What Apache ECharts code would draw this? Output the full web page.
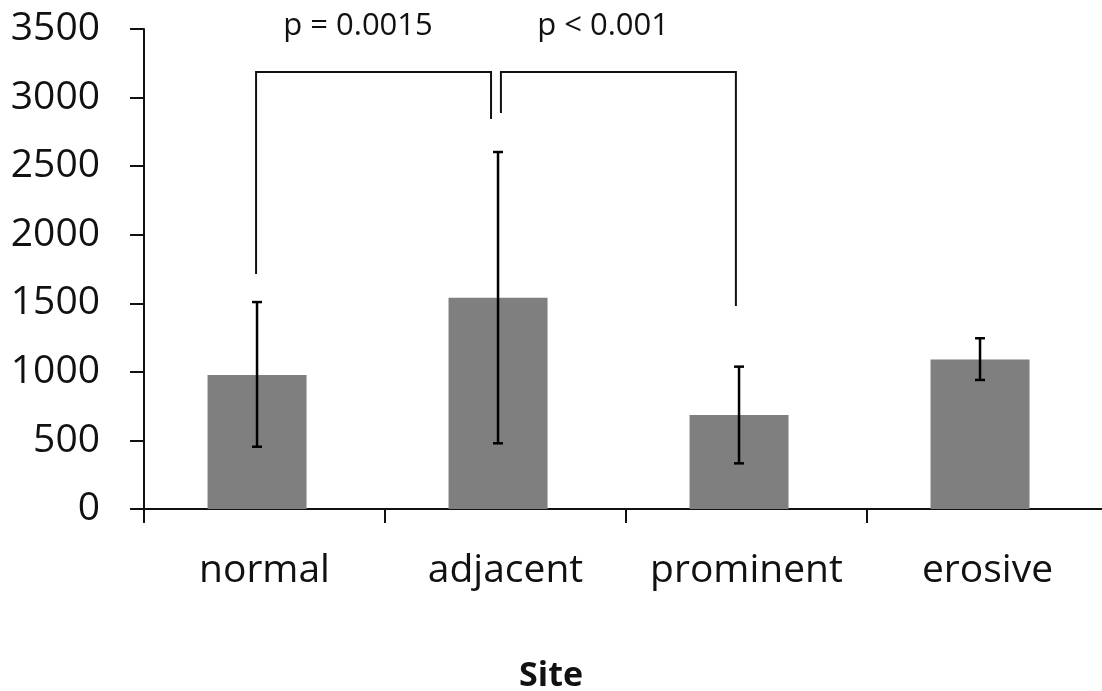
<!DOCTYPE html>
<html>
<head>
<meta charset="utf-8">
<script src="https://cdn.jsdelivr.net/npm/echarts@6/dist/echarts.min.js"></script>
<style>
  html, body { margin: 0; padding: 0; background: #fff; }
  #chart { width: 1102px; height: 691px; }
</style>
</head>
<body>
<div id="chart"></div>
<script>
// data
const sites = ["normal", "adjacent", "prominent", "erosive"];
const means = [977, 1541, 685, 1091];
const errLow = [454, 479, 333, 941];
const errHigh = [1509, 2603, 1038, 1245];

// bars sit a little left of the category centres in the original
const barShift = -0.031;

// significance brackets, x in category units (0..4), y in axis units
const bracketX = [[0.465, 1.44], [1.481, 2.456]];
const bracketTop = 3186;
const bracketLegEnds = [[1714, 2844], [2888, 1480]];
const pLabels = ["p = 0.0015", "p < 0.001"];
const pLabelX = [0.888, 1.905];
const pLabelY = 3522;

const font = "'Open Sans', sans-serif";
const ink = "#111";

const barX = sites.map((_, i) => i + 0.5 + barShift);

const chart = echarts.init(document.getElementById("chart"));

chart.setOption({
  animation: false,
  backgroundColor: "#fff",
  grid: { left: 144, right: -6, top: 29, bottom: 182, outerBoundsMode: "none", containLabel: false },
  xAxis: [
    {
      type: "category",
      data: sites,
      name: "Site",
      nameLocation: "middle",
      nameGap: 150,
      nameTextStyle: { fontFamily: font, fontSize: 34, fontWeight: "bold", color: ink, padding: [0, 150, 0, 0] },
      axisLine: { lineStyle: { color: ink, width: 2 } },
      axisTick: { show: true, length: 14, interval: 0, lineStyle: { color: ink, width: 2 } },
      axisLabel: { fontFamily: font, fontSize: 39, color: ink, margin: 42, interval: 0 },
    },
    { type: "value", min: 0, max: 4, show: false },
  ],
  yAxis: {
    type: "value",
    min: 0,
    max: 3500,
    interval: 500,
    axisLine: { show: true, lineStyle: { color: ink, width: 2 } },
    axisTick: { show: true, length: 14, lineStyle: { color: ink, width: 2 } },
    axisLabel: { fontFamily: font, fontSize: 39, color: ink, margin: 44, formatter: (v) => String(v) },
    splitLine: { show: false },
  },
  series: [
    {
      type: "bar",
      xAxisIndex: 1,
      data: means.map((m, i) => [barX[i], m]),
      barWidth: 99,
      itemStyle: { color: "#7f7f7f" },
    },
    {
      type: "custom",
      xAxisIndex: 1,
      data: means.map((_, i) => [barX[i], errLow[i], errHigh[i]]),
      renderItem: (params, api) => {
        const lo = api.coord([api.value(0), api.value(1)]);
        const hi = api.coord([api.value(0), api.value(2)]);
        const cap = 5;
        const style = { stroke: "#000", lineWidth: 2.5 };
        return {
          type: "group",
          children: [
            { type: "line", shape: { x1: lo[0], y1: lo[1], x2: hi[0], y2: hi[1] }, style },
            { type: "line", shape: { x1: lo[0] - cap, y1: lo[1], x2: lo[0] + cap, y2: lo[1] }, style },
            { type: "line", shape: { x1: hi[0] - cap, y1: hi[1], x2: hi[0] + cap, y2: hi[1] }, style },
          ],
        };
      },
      z: 5,
    },
    {
      type: "custom",
      xAxisIndex: 1,
      clip: false,
      data: bracketX.map((b, i) => [b[0], b[1], bracketLegEnds[i][0], bracketLegEnds[i][1], pLabelX[i]]),
      renderItem: (params, api) => {
        const i = params.dataIndex;
        const tl = api.coord([api.value(0), bracketTop]);
        const tr = api.coord([api.value(1), bracketTop]);
        const bl = api.coord([api.value(0), api.value(2)]);
        const br = api.coord([api.value(1), api.value(3)]);
        const tp = api.coord([api.value(4), pLabelY]);
        const style = { stroke: ink, lineWidth: 2, fill: null };
        return {
          type: "group",
          children: [
            { type: "polyline", shape: { points: [bl, tl, tr, br] }, style },
            {
              type: "text",
              x: tp[0],
              y: tp[1],
              style: {
                text: pLabels[i],
                fontFamily: font,
                fontSize: 31,
                fill: ink,
                align: "center",
                verticalAlign: "middle",
              },
            },
          ],
        };
      },
    },
  ],
});

window.addEventListener("resize", () => chart.resize());
</script>
</body>
</html>
